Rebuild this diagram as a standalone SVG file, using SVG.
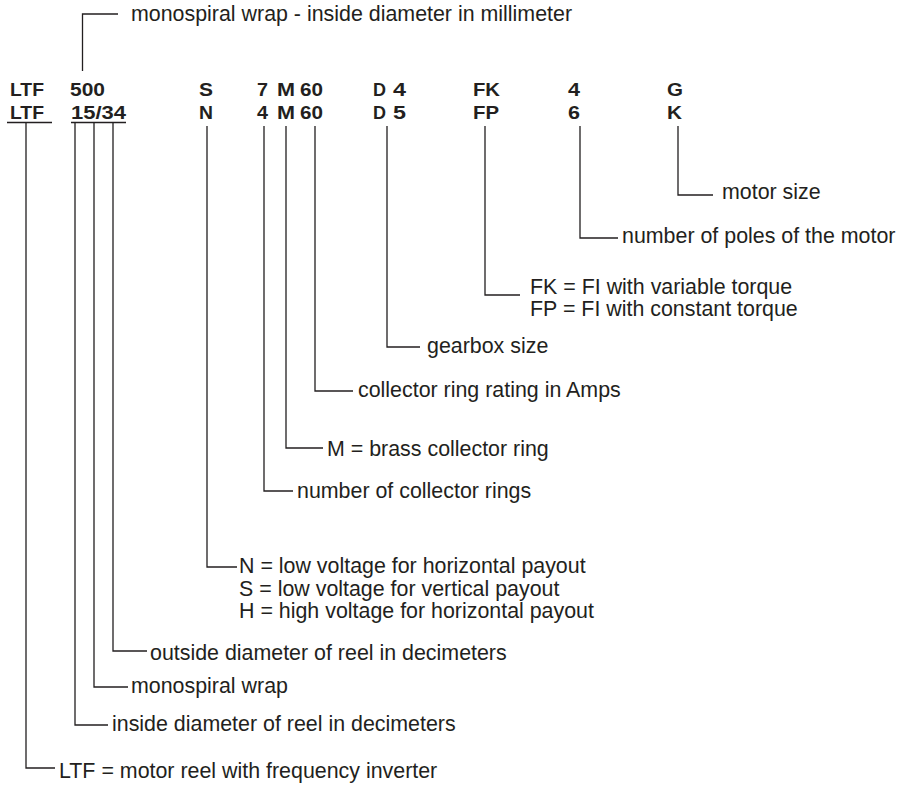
<svg xmlns="http://www.w3.org/2000/svg" width="902" height="787" viewBox="0 0 902 787">
<style>
.code{font-family:"Liberation Sans",Arial,sans-serif;font-weight:bold;font-size:19px;fill:#231f20}
.lbl{font-family:"Liberation Sans",Arial,sans-serif;font-size:21.4px;fill:#231f20}
.ln{fill:none;stroke:#231f20;stroke-width:1.3}
</style>
<rect width="902" height="787" fill="#ffffff"/>
<g id="codes">
<g id="row1">
<text class="code" x="10" y="96" textLength="34" lengthAdjust="spacingAndGlyphs">LTF</text>
<text class="code" x="70" y="96" textLength="35" lengthAdjust="spacingAndGlyphs">500</text>
<text class="code" x="199" y="96" textLength="14" lengthAdjust="spacingAndGlyphs">S</text>
<text class="code" x="257" y="96" textLength="11" lengthAdjust="spacingAndGlyphs">7</text>
<text class="code" x="277" y="96" textLength="18" lengthAdjust="spacingAndGlyphs">M</text>
<text class="code" x="300" y="96" textLength="23" lengthAdjust="spacingAndGlyphs">60</text>
<text class="code" x="373" y="96" textLength="13" lengthAdjust="spacingAndGlyphs">D</text>
<text class="code" x="393" y="96" textLength="13" lengthAdjust="spacingAndGlyphs">4</text>
<text class="code" x="473" y="96" textLength="27" lengthAdjust="spacingAndGlyphs">FK</text>
<text class="code" x="568" y="96" textLength="12" lengthAdjust="spacingAndGlyphs">4</text>
<text class="code" x="667" y="96" textLength="16" lengthAdjust="spacingAndGlyphs">G</text>
</g>
<g id="row2">
<text class="code" x="10" y="119" textLength="34" lengthAdjust="spacingAndGlyphs">LTF</text>
<text class="code" x="71" y="119" textLength="55" lengthAdjust="spacingAndGlyphs">15/34</text>
<text class="code" x="199" y="119" textLength="14" lengthAdjust="spacingAndGlyphs">N</text>
<text class="code" x="257" y="119" textLength="11" lengthAdjust="spacingAndGlyphs">4</text>
<text class="code" x="277" y="119" textLength="18" lengthAdjust="spacingAndGlyphs">M</text>
<text class="code" x="300" y="119" textLength="23" lengthAdjust="spacingAndGlyphs">60</text>
<text class="code" x="373" y="119" textLength="13" lengthAdjust="spacingAndGlyphs">D</text>
<text class="code" x="393" y="119" textLength="13" lengthAdjust="spacingAndGlyphs">5</text>
<text class="code" x="473" y="119" textLength="26" lengthAdjust="spacingAndGlyphs">FP</text>
<text class="code" x="568" y="119" textLength="12" lengthAdjust="spacingAndGlyphs">6</text>
<text class="code" x="667" y="119" textLength="15" lengthAdjust="spacingAndGlyphs">K</text>
</g>
<path class="ln" d="M7,122.5 H52 M71,122.5 H126"/>
</g>
<g id="connectors">
<path class="ln" d="M118,14 H82.5 V71"/>
<path class="ln" d="M26,123 V768 H55"/>
<path class="ln" d="M75,123 V725 H108"/>
<path class="ln" d="M94,123 V687 H128"/>
<path class="ln" d="M113,123 V651 H147"/>
<path class="ln" d="M207,126 V567 H237"/>
<path class="ln" d="M264,126 V491 H293"/>
<path class="ln" d="M286,126 V448 H323"/>
<path class="ln" d="M315,126 V391 H353"/>
<path class="ln" d="M387,126 V347 H420"/>
<path class="ln" d="M485,126 V295 H520"/>
<path class="ln" d="M580,126 V238 H618"/>
<path class="ln" d="M678,126 V195 H713"/>
</g>
<g id="label-top"><text class="lbl" x="131" y="21">monospiral wrap - inside diameter in millimeter</text></g>
<g id="label-motor-size"><text class="lbl" x="722" y="199">motor size</text></g>
<g id="label-poles"><text class="lbl" x="622" y="243">number of poles of the motor</text></g>
<g id="label-torque">
<text class="lbl" x="530" y="294">FK = FI with variable torque</text>
<text class="lbl" x="530" y="316">FP = FI with constant torque</text>
</g>
<g id="label-gearbox"><text class="lbl" x="427" y="353">gearbox size</text></g>
<g id="label-rating"><text class="lbl" x="358" y="397">collector ring rating in Amps</text></g>
<g id="label-brass"><text class="lbl" x="327" y="456">M = brass collector ring</text></g>
<g id="label-rings"><text class="lbl" x="297" y="498">number of collector rings</text></g>
<g id="label-voltage">
<text class="lbl" x="239" y="573">N = low voltage for horizontal payout</text>
<text class="lbl" x="239" y="595.5">S = low voltage for vertical payout</text>
<text class="lbl" x="239" y="618">H = high voltage for horizontal payout</text>
</g>
<g id="label-outside"><text class="lbl" x="150" y="660">outside diameter of reel in decimeters</text></g>
<g id="label-wrap"><text class="lbl" x="131" y="693">monospiral wrap</text></g>
<g id="label-inside"><text class="lbl" x="112" y="731">inside diameter of reel in decimeters</text></g>
<g id="label-ltf"><text class="lbl" x="59" y="778">LTF = motor reel with frequency inverter</text></g>
</svg>
